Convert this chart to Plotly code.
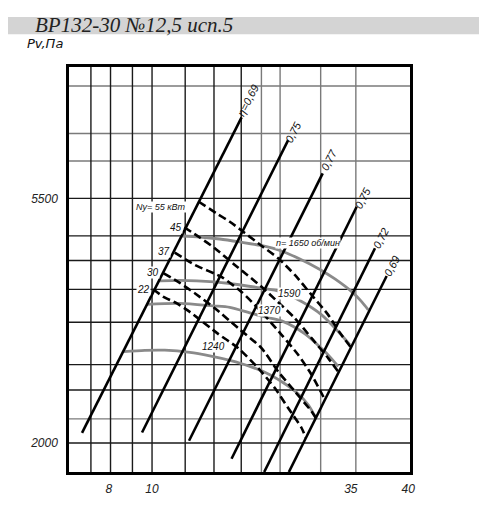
import numpy as np
import plotly.graph_objects as go

# ---------------- data (Q in thousand m3/h, P in Pa) ----------------
Q_RANGE = [6.4, 40.0]
P_RANGE = [1774, 9468]

grid_q_dark = [7.2, 8.0, 9.0, 10.0, 11.95, 13.95, 16.15]
grid_q_light = [18.0, 19.9, 24.75, 29.9]
grid_p_dark = [5500, 4710, 4255, 3775, 3295, 2765, 2490, 2000]
grid_p_light = [8750, 7190, 6420, 2210]

q_tickvals = [7.93, 10, 29.1, 39.6]
q_ticktext = ["8", "10", "35", "40"]
p_tickvals = [2000, 5500]
p_ticktext = ["2000", "5500"]

# efficiency lines
eff_text = ["η=0,69", "0,75", "0,77", "0,75", "0,72", "0,69"]
eff_q = [[6.863, 16.18], [9.476, 20.78], [12.20, 25.02], [15.33, 30.03], [18.27, 33.14], [20.86, 35.28]]
eff_p = [[2085, 7685], [2089, 6998], [2019, 6097], [1874, 5312], [1774, 4474], [1774, 3990]]
eff_label_q = [16.76, 21.36, 25.87, 31.07, 34.22, 36.26]
eff_label_p = [8254, 7240, 6443, 5503, 4668, 4159]

# rpm curves (gray)
rpm_text = ["n= 1650 об/мин", "1590", "1370", "1240"]
rpm_q = [
    [11.72, 12.925, 14.394, 16.029, 17.945, 19.877, 22.134, 24.649, 26.72, 29.232, 30.732, 31.962],
    [10.406, 11.607, 12.718, 15.026, 18.042, 19.877, 22.337, 24.875, 27.199, 28.966],
    [9.719, 11.607, 13.862, 15.189, 16.915, 18.336, 20.060, 22.738, 24.916, 26.011, 27.199],
    [8.588, 9.615, 10.707, 12.249, 13.640, 15.189, 16.915, 18.836, 20.419, 21.780, 23.145, 24.124],
]
rpm_p = [
    [4707, 4688, 4649, 4592, 4526, 4434, 4281, 4099, 3941, 3740, 3599, 3468],
    [3909, 3917, 3909, 3872, 3793, 3743, 3589, 3397, 3171, 3001],
    [3548, 3562, 3526, 3504, 3425, 3369, 3314, 3141, 2952, 2856, 2744],
    [2919, 2934, 2936, 2910, 2868, 2815, 2746, 2652, 2555, 2462, 2343, 2218],
]
rpm_label_q = [23.11, 20.98, 18.84, 13.88]
rpm_label_p = [4574, 3716, 3457, 2980]

# power lines (dashed)
pow_text = ["Ny= 55 кВт", "45", "37", "30", "22"]
pow_q = [
    [12.856, 14.141, 15.189, 16.466, 18.042, 19.696, 21.547, 23.573, 25.774, 27.449, 29.122],
    [11.891, 12.925, 14.012, 15.603, 16.734, 18.139, 19.664, 21.547, 23.573, 25.774, 27.155],
    [11.299, 12.583, 14.526, 16.176, 18.013, 20.060, 21.932, 23.573, 25.321],
    [10.650, 11.607, 12.583, 14.012, 15.883, 18.013, 19.696, 21.547, 23.573, 24.124],
    [10.065, 10.610, 11.403, 12.249, 14.263, 15.883, 17.686, 19.350, 20.784, 22.337, 22.861],
]
pow_p = [
    [5423, 5170, 4993, 4766, 4517, 4293, 4007, 3689, 3397, 3154, 2970],
    [4879, 4678, 4474, 4176, 3999, 3798, 3584, 3351, 3085, 2841, 2690],
    [4394, 4176, 3974, 3735, 3439, 3128, 2880, 2652, 2392],
    [4035, 3877, 3715, 3492, 3216, 2961, 2688, 2475, 2279, 2218],
    [3777, 3664, 3565, 3439, 3141, 2961, 2726, 2510, 2311, 2128, 2042],
]
pow_label_q = [10.52, 11.40, 10.67, 10.05, 9.55]
pow_label_p = [5312, 4885, 4407, 4044, 3775]

title_text = "ВР132-30 №12,5 исп.5"
ylabel_text = "Рv,Па"

# ---------------- styling ----------------
SANS = "Liberation Sans, Arial, sans-serif"
WIDE = "DejaVu Sans, Liberation Sans, sans-serif"
SERIF = "Liberation Serif, Times New Roman, serif"

fig = go.Figure()


def grid_trace(qs, ps, color):
    xs, ys = [], []
    for q in qs:
        xs += [q, q, None]
        ys += [P_RANGE[0], P_RANGE[1], None]
    for p in ps:
        xs += [Q_RANGE[0], Q_RANGE[1], None]
        ys += [p, p, None]
    return go.Scatter(x=xs, y=ys, mode="lines", line=dict(color=color, width=1.4),
                      hoverinfo="skip", showlegend=False)


fig.add_trace(grid_trace(grid_q_light, grid_p_light, "#7a7a7a"))
fig.add_trace(grid_trace(grid_q_dark, grid_p_dark, "#1a1a1a"))

for q, p in zip(rpm_q, rpm_p):
    fig.add_trace(go.Scatter(x=q, y=p, mode="lines",
                             line=dict(color="#8a8a8a", width=2.8, shape="spline", smoothing=0.8),
                             hoverinfo="skip", showlegend=False))

for q, p in zip(pow_q, pow_p):
    fig.add_trace(go.Scatter(x=q, y=p, mode="lines",
                             line=dict(color="black", width=2.6, dash="8px,4px", shape="spline", smoothing=0.6),
                             hoverinfo="skip", showlegend=False))

for q, p in zip(eff_q, eff_p):
    fig.add_trace(go.Scatter(x=q, y=p, mode="lines", line=dict(color="black", width=2.6),
                             hoverinfo="skip", showlegend=False))

annotations = []
for t, q, p in zip(eff_text, eff_label_q, eff_label_p):
    annotations.append(dict(x=np.log10(q), y=np.log10(p), xref="x", yref="y", text=t, showarrow=False,
                            textangle=-63, xanchor="center", yanchor="middle",
                            font=dict(family=SANS, size=11, color="#111", style="italic")))
for i, (t, q, p) in enumerate(zip(rpm_text, rpm_label_q, rpm_label_p)):
    annotations.append(dict(x=np.log10(q), y=np.log10(p), xref="x", yref="y", text=t, showarrow=False,
                            xanchor="center", yanchor="middle", bgcolor="white", borderpad=0,
                            font=dict(family=SANS, size=9 if i == 0 else 10, color="#111", style="italic")))
for i, (t, q, p) in enumerate(zip(pow_text, pow_label_q, pow_label_p)):
    annotations.append(dict(x=np.log10(q), y=np.log10(p), xref="x", yref="y", text=t, showarrow=False,
                            xanchor="center", yanchor="middle", bgcolor="white", borderpad=0,
                            font=dict(family=SANS, size=10 if i else 9, color="#111", style="italic")))

annotations.append(dict(x=-0.1056, y=1.1025, xref="paper", yref="paper", text=title_text, showarrow=False,
                        xanchor="left", yanchor="middle",
                        font=dict(family=SERIF, size=21, color="#222", style="italic")))
annotations.append(dict(x=-0.129, y=1.059, xref="paper", yref="paper", text=ylabel_text, showarrow=False,
                        xanchor="left", yanchor="middle",
                        font=dict(family=WIDE, size=13, color="#111", style="italic")))

# page body has an 8px margin: offset the figure margins so the plot area lands at 69..410 x 67..472
fig.update_layout(
    width=487, height=521,
    margin=dict(l=61, r=85, t=59, b=57),
    paper_bgcolor="white", plot_bgcolor="white",
    showlegend=False, hovermode=False,
    annotations=annotations,
    shapes=[dict(type="rect", xref="paper", yref="paper", x0=-0.1848, x1=1.2082, y0=1.0807, y1=1.1235,
                 fillcolor="#d4d4d4", line=dict(width=0), layer="below")],
)
fig.update_xaxes(type="log", range=[np.log10(Q_RANGE[0]), np.log10(Q_RANGE[1])],
                 showgrid=False, zeroline=False, showline=True, mirror=True, linecolor="black", linewidth=2.5,
                 tickmode="array", tickvals=q_tickvals, ticktext=q_ticktext,
                 ticks="outside", ticklen=4, tickcolor="rgba(0,0,0,0)",
                 tickfont=dict(family=SANS, size=12, color="#222", style="italic"))
fig.update_yaxes(type="log", range=[np.log10(P_RANGE[0]), np.log10(P_RANGE[1])],
                 showgrid=False, zeroline=False, showline=True, mirror=True, linecolor="black", linewidth=2.5,
                 tickmode="array", tickvals=p_tickvals, ticktext=p_ticktext,
                 ticks="outside", ticklen=6, tickcolor="rgba(0,0,0,0)",
                 tickfont=dict(family=SANS, size=12, color="#222", style="italic"))

fig.write_html("out.html")
